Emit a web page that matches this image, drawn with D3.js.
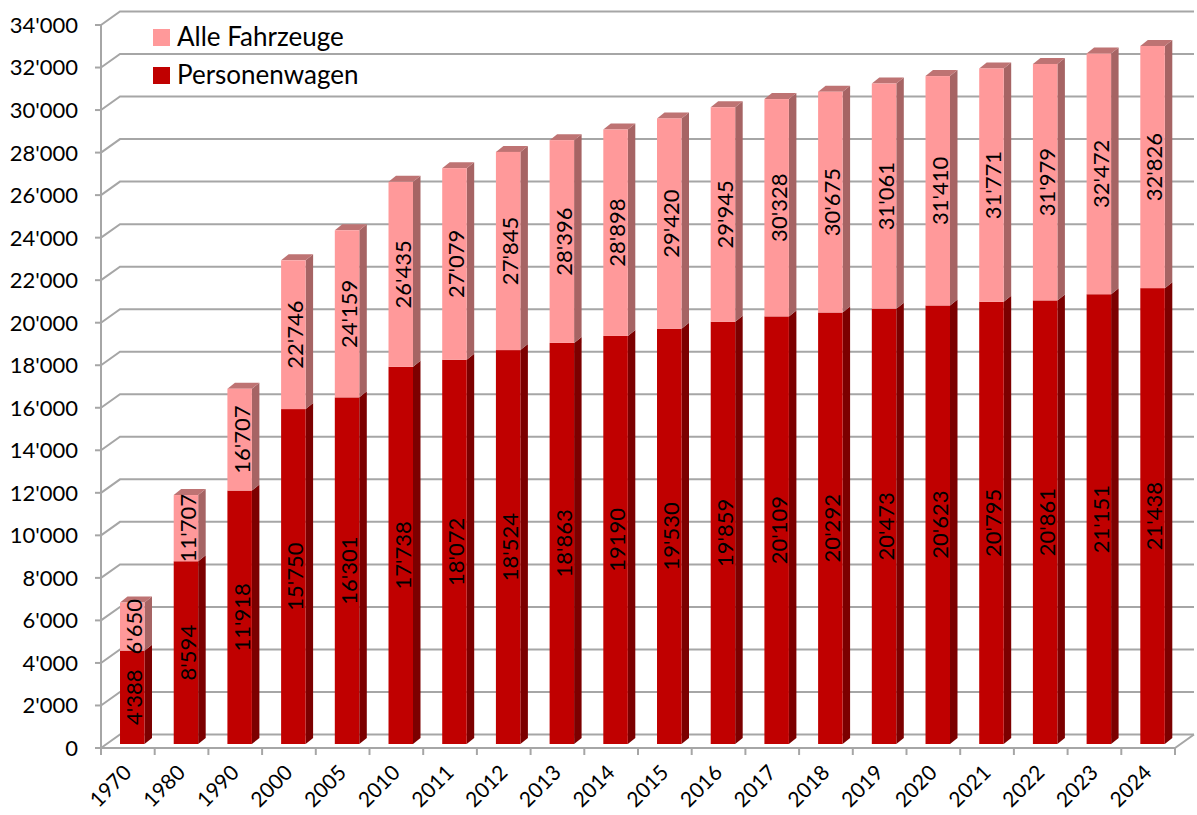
<!DOCTYPE html>
<html>
<head>
<meta charset="utf-8">
<script src="https://cdn.jsdelivr.net/npm/d3@7"></script>
<style>
  html, body { margin: 0; padding: 0; background: #fff; }
  svg { display: block; font-family: Lato, "Open Sans", sans-serif; }
</style>
</head>
<body>
<svg id="chart" width="1197" height="815"></svg>
<script>
// ---- data ----
const years = ["1970","1980","1990","2000","2005","2010","2011","2012","2013","2014","2015","2016","2017","2018","2019","2020","2021","2022","2023","2024"];
const personenwagen = [4388, 8594, 11918, 15750, 16301, 17738, 18072, 18524, 18863, 19190, 19530, 19859, 20109, 20292, 20473, 20623, 20795, 20861, 21151, 21438];
const alleFahrzeuge = [6650, 11707, 16707, 22746, 24159, 26435, 27079, 27845, 28396, 28898, 29420, 29945, 30328, 30675, 31061, 31410, 31771, 31979, 32472, 32826];
const personenwagenLabels = ["4'388","8'594","11'918","15'750","16'301","17'738","18'072","18'524","18'863","19190","19'530","19'859","20'109","20'292","20'473","20'623","20'795","20'861","21'151","21'438"];
const alleFahrzeugeLabels = ["6'650","11'707","16'707","22'746","24'159","26'435","27'079","27'845","28'396","28'898","29'420","29'945","30'328","30'675","31'061","31'410","31'771","31'979","32'472","32'826"];
const yTickValues = [0,2000,4000,6000,8000,10000,12000,14000,16000,18000,20000,22000,24000,26000,28000,30000,32000,34000];
const yTickLabels = ["0","2'000","4'000","6'000","8'000","10'000","12'000","14'000","16'000","18'000","20'000","22'000","24'000","26'000","28'000","30'000","32'000","34'000"];
const seriesNames = ["Alle Fahrzeuge", "Personenwagen"];

// ---- layout ----
const svg = d3.select("#chart");
const x = d3.scaleBand().domain(years).range([101, 1175]).padding(0);
const y = d3.scaleLinear().domain([0, 34000]).range([748, 25]);
const wallDx = 19, wallDy = -13.5;
const barDx = 7.5, barDy = -6;
const bw = x.bandwidth();
const barOff = 0.354 * bw, barW = 0.456 * bw;
const baseShift = -4;
const gridColor = "#A6A6A6";
const fs = 22;

const colors = {
  redFront: "#C00000", redSide: "#7C0000", redTop: "#960000",
  pinkFront: "#FF999A", pinkSide: "#A66464", pinkTop: "#BE7373"
};

// gridlines (back wall + left wall)
const grid = svg.append("g");
yTickValues.forEach(v => {
  const yf = y(v), yb = y(v) + wallDy;
  grid.append("path")
    .attr("d", `M${x.range()[0]},${yf}L${x.range()[0] + wallDx},${yb}L${x.range()[1] + wallDx},${yb}`)
    .attr("fill", "none").attr("stroke", gridColor).attr("stroke-width", 2);
});
grid.append("path")
  .attr("d", `M${x.range()[0]},${y(0)}L${x.range()[1]},${y(0)}L${x.range()[1] + wallDx},${y(0) + wallDy}`)
  .attr("fill", "none").attr("stroke", gridColor).attr("stroke-width", 2);
grid.append("line")
  .attr("x1", x.range()[0]).attr("x2", x.range()[0])
  .attr("y1", y(34000)).attr("y2", y(0))
  .attr("stroke", gridColor).attr("stroke-width", 2);

// y ticks and labels
const yAxis = svg.append("g");
yTickValues.forEach((v, i) => {
  yAxis.append("line")
    .attr("x1", x.range()[0] - 6).attr("x2", x.range()[0])
    .attr("y1", y(v)).attr("y2", y(v))
    .attr("stroke", gridColor).attr("stroke-width", 2);
  yAxis.append("text")
    .attr("x", 78).attr("y", y(v)).attr("dy", "0.36em")
    .attr("text-anchor", "end").attr("font-size", fs).attr("fill", "#000")
    .text(yTickLabels[i]);
});

// x ticks and labels
const xAxis = svg.append("g");
const xTickPos = years.map(d => x(d)).concat([x.range()[1]]);
xTickPos.forEach(p => {
  xAxis.append("line")
    .attr("x1", p).attr("x2", p).attr("y1", y(0)).attr("y2", y(0) + 7)
    .attr("stroke", gridColor).attr("stroke-width", 2);
});
years.forEach(d => {
  const cx = x(d) + bw / 2 + 5, cy = 774;
  xAxis.append("text")
    .attr("transform", `translate(${cx},${cy}) rotate(-45)`)
    .attr("text-anchor", "end").attr("font-size", 21).attr("fill", "#000")
    .text(d);
});

// bars
function box(g, x0, w, yBottom, yTop, front, side, top, drawTop) {
  g.append("path")
    .attr("d", `M${x0 + w},${yBottom}L${x0 + w + barDx},${yBottom + barDy}L${x0 + w + barDx},${yTop + barDy}L${x0 + w},${yTop}Z`)
    .attr("fill", side);
  if (drawTop) {
    g.append("path")
      .attr("d", `M${x0},${yTop}L${x0 + barDx},${yTop + barDy}L${x0 + w + barDx},${yTop + barDy}L${x0 + w},${yTop}Z`)
      .attr("fill", top);
  }
  g.append("rect")
    .attr("x", x0).attr("y", yTop).attr("width", w).attr("height", yBottom - yTop)
    .attr("fill", front);
}

const bars = svg.append("g");
years.forEach((d, i) => {
  const x0 = x(d) + barOff;
  const yb = y(0) + baseShift;
  const yr = y(personenwagen[i]) + baseShift;
  const yt = y(alleFahrzeuge[i]) + baseShift;
  const g = bars.append("g");
  box(g, x0, barW, yb, yr, colors.redFront, colors.redSide, colors.redTop, false);
  box(g, x0, barW, yr, yt, colors.pinkFront, colors.pinkSide, colors.pinkTop, true);
  const lx = x0 + barW / 2 + 2;
  g.append("text")
    .attr("transform", `translate(${lx},${(yb + yr) / 2}) rotate(-90)`)
    .attr("text-anchor", "middle").attr("dy", "0.36em")
    .attr("font-size", fs).attr("fill", "#000")
    .text(personenwagenLabels[i]);
  g.append("text")
    .attr("transform", `translate(${lx},${(yr + yt) / 2}) rotate(-90)`)
    .attr("text-anchor", "middle").attr("dy", "0.36em")
    .attr("font-size", fs).attr("fill", "#000")
    .text(alleFahrzeugeLabels[i]);
});

// legend
const legend = svg.append("g");
const legendColors = [colors.pinkFront, colors.redFront];
seriesNames.forEach((n, i) => {
  const ly = 29 + i * 38;
  legend.append("rect").attr("x", 153).attr("y", ly).attr("width", 17).attr("height", 17)
    .attr("fill", legendColors[i]);
  legend.append("text").attr("x", 177).attr("y", ly + 17)
    .attr("font-size", 26).attr("fill", "#000").text(n);
});
</script>
</body>
</html>
